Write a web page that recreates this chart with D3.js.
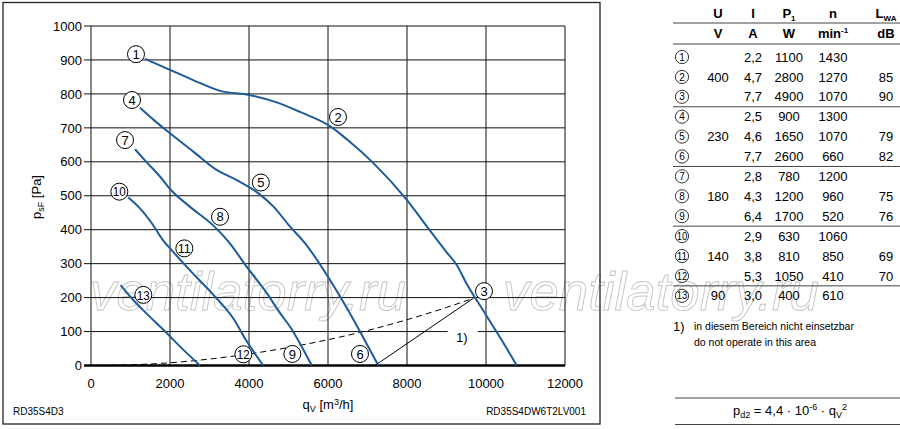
<!DOCTYPE html>
<html>
<head>
<meta charset="utf-8">
<title>RD35S4D3 fan curves</title>
<script src="https://cdnjs.cloudflare.com/ajax/libs/d3/7.8.5/d3.min.js"></script>
<style>
  body { margin: 0; background: #fff; }
  svg { display: block; font-family: "Liberation Sans", Arial, Helvetica, sans-serif; }
</style>
</head>
<body>
<script>
  // ---- values ----
  const xTicks = [0, 2000, 4000, 6000, 8000, 10000, 12000];
  const yTicks = [0, 100, 200, 300, 400, 500, 600, 700, 800, 900, 1000];

  // fan curves [q m3/h, p Pa], one per voltage
  const curve400 = [[1367,903],[2000,871],[2600,840],[3270,809],[4000,797],[4700,775],[5290,747],
                    [6050,705],[6500,664],[7150,596],[8000,487],[8500,410],[9000,334],[9260,296],
                    [9500,243],[10000,149],[10500,55],[10780,0]];
  const curve230 = [[1240,759],[1600,722],[2000,684],[2590,630],[3180,576],[3690,546],[4240,507],
                    [4620,468],[5040,409],[5420,360],[6050,252],[6500,165],[6810,100],[7275,0]];
  const curve180 = [[1114,637],[1400,600],[1750,556],[2000,520],[2500,468],[3100,412],[3500,362],
                    [3940,291],[4450,213],[4800,152],[5040,114],[5290,65],[5590,0]];
  const curve140 = [[945,495],[1240,463],[1540,419],[1830,368],[2040,340],[2500,281],[3100,208],
                    [3600,139],[3940,72],[4360,0]];
  const curve90  = [[750,237],[1070,193],[1320,163],[1920,95],[2340,46],[2760,0]];

  // boundary of area 1)
  const systemCurve = [[0,0],[1000,2],[2000,8],[3000,19],[4000,34],[5000,53],[6000,76],
                       [7000,103],[8000,135],[9000,171],[9680,198]];
  const limitLine = [[7190,0],[9680,198]];

  // operating point markers
  const labelIds = [1, 2, 3, 4, 5, 6, 7, 8, 9, 10, 11, 12, 13];
  const labelQ = [1139, 6253, 9949, 1038, 4300, 6810, 861, 3266, 5097, 717, 2363, 3857, 1325];
  const labelP = [917, 732, 219, 782, 539, 34, 664, 438, 34, 512, 345, 33, 208];

  // table
  const voltageV = ["", "400", "", "", "230", "", "", "180", "", "", "140", "", "90"];
  const currentA = ["2,2","4,7","7,7","2,5","4,6","7,7","2,8","4,3","6,4","2,9","3,8","5,3","3,0"];
  const powerW   = [1100, 2800, 4900, 900, 1650, 2600, 780, 1200, 1700, 630, 810, 1050, 400];
  const speedRpm = [1430, 1270, 1070, 1300, 1070, 660, 1200, 960, 520, 1060, 850, 410, 610];
  const noiseDb  = ["", "85", "90", "", "79", "82", "", "75", "76", "", "69", "70", ""];

  // ---- drawing ----
  const width = 900, height = 429;
  const blue = "#1d5b9b";

  const svg = d3.select("body").append("svg")
    .attr("width", width)
    .attr("height", height);

  svg.append("rect").attr("width", width).attr("height", height).attr("fill", "#fff");

  const x = d3.scaleLinear().domain([0, 12000]).range([91, 565]);
  const y = d3.scaleLinear().domain([0, 1000]).range([365.5, 26]);

  // watermark
  [[90, 310], [503, 310]].forEach(function(w) {
    svg.append("text")
      .attr("x", w[0]).attr("y", w[1])
      .attr("font-size", 53)
      .attr("font-style", "italic")
      .attr("textLength", 316)
      .attr("lengthAdjust", "spacingAndGlyphs")
      .attr("fill", "none")
      .attr("stroke", "#c4c4c4")
      .attr("stroke-width", 0.9)
      .text("ventilatorry.ru");
  });

  // frame around the chart
  svg.append("rect")
    .attr("x", 3).attr("y", 2.5)
    .attr("width", 597).attr("height", 421.5)
    .attr("fill", "none")
    .attr("stroke", "#222")
    .attr("stroke-width", 1.3);

  // grid
  const grid = svg.append("g").attr("stroke", "#111").attr("stroke-width", 1);
  grid.selectAll("line.h")
    .data(yTicks.filter(function(d) { return d > 0; }))
    .enter().append("line")
    .attr("x1", x(0) - 7).attr("x2", x(12000))
    .attr("y1", function(d) { return y(d); })
    .attr("y2", function(d) { return y(d); });
  grid.selectAll("line.v")
    .data(xTicks)
    .enter().append("line")
    .attr("x1", function(d) { return x(d); })
    .attr("x2", function(d) { return x(d); })
    .attr("y1", y(1000)).attr("y2", y(0));
  svg.append("line")
    .attr("x1", x(0) - 7).attr("x2", x(12000))
    .attr("y1", y(0)).attr("y2", y(0))
    .attr("stroke", "#000").attr("stroke-width", 2.4);

  // tick labels
  svg.selectAll("text.ytick")
    .data(yTicks)
    .enter().append("text")
    .attr("x", 82)
    .attr("y", function(d) { return y(d); })
    .attr("dy", "0.36em")
    .attr("text-anchor", "end")
    .attr("font-size", 13)
    .text(function(d) { return d; });
  svg.selectAll("text.xtick")
    .data(xTicks)
    .enter().append("text")
    .attr("x", function(d) { return x(d); })
    .attr("y", 387.5)
    .attr("text-anchor", "middle")
    .attr("font-size", 13)
    .text(function(d) { return d; });

  // axis titles
  const xt = svg.append("text")
    .attr("x", 328).attr("y", 409)
    .attr("text-anchor", "middle")
    .attr("font-size", 13);
  xt.append("tspan").text("q");
  xt.append("tspan").attr("font-size", 9).attr("dy", 3).text("V");
  xt.append("tspan").attr("dy", -3).text(" [m");
  xt.append("tspan").attr("font-size", 9).attr("dy", -4).text("3");
  xt.append("tspan").attr("dy", 4).text("/h]");

  const yt = svg.append("text")
    .attr("transform", "translate(41,197) rotate(-90)")
    .attr("text-anchor", "middle")
    .attr("font-size", 13);
  yt.append("tspan").text("p");
  yt.append("tspan").attr("font-size", 9).attr("dy", 3).text("sF");
  yt.append("tspan").attr("dy", -3).text(" [Pa]");

  // footer ids
  svg.append("text").attr("x", 13).attr("y", 415).attr("font-size", 10).text("RD35S4D3");
  svg.append("text").attr("x", 586).attr("y", 415).attr("font-size", 10)
    .attr("text-anchor", "end").text("RD35S4DW6T2LV001");

  // area 1) boundaries
  const line = d3.line()
    .x(function(d) { return x(d[0]); })
    .y(function(d) { return y(d[1]); });
  svg.append("path")
    .datum(systemCurve)
    .attr("fill", "none")
    .attr("stroke", "#000")
    .attr("stroke-width", 1)
    .attr("stroke-dasharray", "6,4")
    .attr("d", line.curve(d3.curveMonotoneX));
  svg.append("path")
    .datum(limitLine)
    .attr("fill", "none")
    .attr("stroke", "#000")
    .attr("stroke-width", 1)
    .attr("d", d3.line().x(function(d) { return x(d[0]); }).y(function(d) { return y(d[1]); }));

  // note 1) with a gap in the grid line
  svg.append("rect")
    .attr("x", x(9385) - 14).attr("y", y(100) - 2)
    .attr("width", 30).attr("height", 4)
    .attr("fill", "#fff");
  svg.append("text")
    .attr("x", x(9385)).attr("y", y(83))
    .attr("dy", "0.36em")
    .attr("text-anchor", "middle")
    .attr("font-size", 13)
    .text("1)");

  // fan curves
  const curveLine = d3.line()
    .x(function(d) { return x(d[0]); })
    .y(function(d) { return y(d[1]); })
    .curve(d3.curveMonotoneX);
  svg.selectAll("path.fan")
    .data([curve400, curve230, curve180, curve140, curve90])
    .enter().append("path")
    .attr("fill", "none")
    .attr("stroke", blue)
    .attr("stroke-width", 2)
    .attr("d", curveLine);

  // numbered markers
  const marks = svg.selectAll("g.mark")
    .data(labelIds)
    .enter().append("g")
    .attr("transform", function(d, i) { return "translate(" + x(labelQ[i]) + "," + y(labelP[i]) + ")"; });
  marks.append("circle")
    .attr("r", 8.5)
    .attr("fill", "#fff")
    .attr("stroke", "#000")
    .attr("stroke-width", 1);
  marks.append("text")
    .attr("text-anchor", "middle")
    .attr("dy", "0.36em")
    .attr("font-size", 13)
    .each(function(d) {
      if (d > 9) d3.select(this).attr("textLength", 13).attr("lengthAdjust", "spacingAndGlyphs");
    })
    .text(function(d) { return d; });

  // ---- table ----
  const colX = { id: 682, u: 718, i: 753, p: 789, n: 833, l: 886 };
  const rowY = function(i) { return 57 + i * 19.9; };
  const tbl = svg.append("g").attr("font-size", 13);

  const h1 = tbl.append("g").attr("font-weight", "bold").attr("text-anchor", "middle");
  h1.append("text").attr("x", colX.u).attr("y", 18).text("U");
  h1.append("text").attr("x", colX.i).attr("y", 18).text("I");
  const hp = h1.append("text").attr("x", colX.p).attr("y", 18);
  hp.append("tspan").text("P");
  hp.append("tspan").attr("font-size", 8).attr("dy", 3).text("1");
  h1.append("text").attr("x", colX.n).attr("y", 18).text("n");
  const hl = h1.append("text").attr("x", colX.l).attr("y", 18);
  hl.append("tspan").text("L");
  hl.append("tspan").attr("font-size", 8).attr("dy", 3).text("WA");

  h1.append("text").attr("x", colX.u).attr("y", 38).text("V");
  h1.append("text").attr("x", colX.i).attr("y", 38).text("A");
  h1.append("text").attr("x", colX.p).attr("y", 38).text("W");
  const hn = h1.append("text").attr("x", colX.n).attr("y", 38);
  hn.append("tspan").text("min");
  hn.append("tspan").attr("font-size", 8).attr("dy", -5).text("-1");
  h1.append("text").attr("x", colX.l).attr("y", 38).text("dB");

  const rules = [23, 44, (rowY(2) + rowY(3)) / 2, (rowY(5) + rowY(6)) / 2,
                 (rowY(8) + rowY(9)) / 2, (rowY(11) + rowY(12)) / 2];
  tbl.selectAll("line.rule")
    .data(rules)
    .enter().append("line")
    .attr("x1", 673).attr("x2", 900)
    .attr("y1", function(d) { return d; })
    .attr("y2", function(d) { return d; })
    .attr("stroke", "#444")
    .attr("stroke-width", 1);

  const rows = tbl.selectAll("g.row")
    .data(labelIds)
    .enter().append("g")
    .attr("transform", function(d, i) { return "translate(0," + rowY(i) + ")"; })
    .attr("text-anchor", "middle");
  rows.append("circle")
    .attr("cx", colX.id).attr("r", 6.6)
    .attr("fill", "#fff").attr("stroke", "#000").attr("stroke-width", 0.8);
  rows.append("text")
    .attr("x", colX.id).attr("dy", "0.36em")
    .attr("font-size", 10)
    .each(function(d) {
      if (d > 9) d3.select(this).attr("textLength", 10.5).attr("lengthAdjust", "spacingAndGlyphs");
    })
    .text(function(d) { return d; });
  rows.append("text").attr("x", colX.u).attr("dy", "0.36em").text(function(d, i) { return voltageV[i]; });
  rows.append("text").attr("x", colX.i).attr("dy", "0.36em").text(function(d, i) { return currentA[i]; });
  rows.append("text").attr("x", colX.p).attr("dy", "0.36em").text(function(d, i) { return powerW[i]; });
  rows.append("text").attr("x", colX.n).attr("dy", "0.36em").text(function(d, i) { return speedRpm[i]; });
  rows.append("text").attr("x", colX.l).attr("dy", "0.36em").text(function(d, i) { return noiseDb[i]; });

  // footnote
  svg.append("text").attr("x", 673).attr("y", 331).attr("font-size", 13).text("1)");
  svg.append("text").attr("x", 694).attr("y", 330).attr("font-size", 10.5)
    .text("in diesem Bereich nicht einsetzbar");
  svg.append("text").attr("x", 694).attr("y", 346).attr("font-size", 10.5)
    .text("do not operate in this area");

  // formula box
  svg.selectAll("line.fbox")
    .data([398, 424.5])
    .enter().append("line")
    .attr("x1", 675).attr("x2", 900)
    .attr("y1", function(d) { return d; })
    .attr("y2", function(d) { return d; })
    .attr("stroke", "#444")
    .attr("stroke-width", 1);
  const f = svg.append("text")
    .attr("x", 790).attr("y", 415)
    .attr("text-anchor", "middle")
    .attr("font-size", 13);
  f.append("tspan").text("p");
  f.append("tspan").attr("font-size", 9).attr("dy", 3).text("d2");
  f.append("tspan").attr("dy", -3).text(" = 4,4 \u00b7 10");
  f.append("tspan").attr("font-size", 9).attr("dy", -5).text("-6");
  f.append("tspan").attr("dy", 5).text(" \u00b7 q");
  f.append("tspan").attr("font-size", 9).attr("dy", 3).text("V");
  f.append("tspan").attr("font-size", 9).attr("dy", -8).text("2");
</script>
</body>
</html>
